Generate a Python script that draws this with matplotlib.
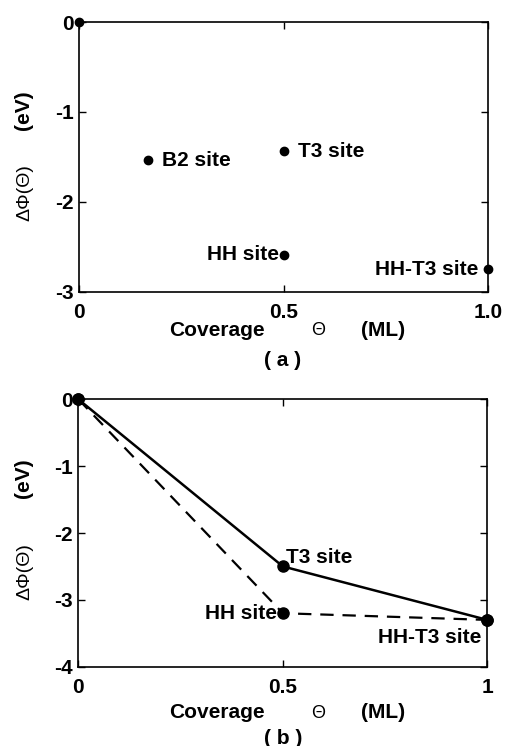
import matplotlib
matplotlib.use("Agg")
import matplotlib.pyplot as plt

plt.rcParams['font.family'] = ['Liberation Sans', 'DejaVu Sans']

# (a) single-site adsorption
cov_a = [0.0, 1/6, 0.5, 0.5, 1.0]
dphi_a = [0.0, -1.54, -1.44, -2.59, -2.75]
names_a = ['', 'B2 site', 'T3 site', 'HH site', 'HH-T3 site']

# (b) coverage paths through T3 and HH
cov_b = [0.0, 0.5, 1.0]
dphi_t3 = [0.0, -2.5, -3.3]
dphi_hh = [0.0, -3.2, -3.3]

FS = 15

fig = plt.figure(figsize=(5.09, 7.46), dpi=100)
ax1 = fig.add_axes([0.156, 0.609, 0.803, 0.3615])
ax2 = fig.add_axes([0.154, 0.1063, 0.8035, 0.3584])

def style(ax, yticks, xticks, xlabels):
    ax.set_xlim(0, 1)
    ax.set_ylim(min(yticks), 0)
    ax.set_yticks(yticks)
    ax.set_yticklabels([f"{t:g}" for t in yticks])
    ax.set_xticks(xticks)
    ax.set_xticklabels(xlabels)
    ax.tick_params(direction='in', length=5, width=1, top=True, right=True,
                   labelsize=FS)
    ax.tick_params(axis='x', pad=8)
    ax.tick_params(axis='y', pad=4)
    for lab in ax.get_xticklabels() + ax.get_yticklabels():
        lab.set_fontweight('bold')
    for s in ax.spines.values():
        s.set_linewidth(1.2)

# panel (a)
ax1.plot(cov_a, dphi_a, 'o', color='black', ms=6, clip_on=False)
ax1.text(cov_a[1] + 0.035, dphi_a[1], names_a[1], fontsize=FS, fontweight='bold', va='center')
ax1.text(cov_a[2] + 0.035, dphi_a[2], names_a[2], fontsize=FS, fontweight='bold', va='center')
ax1.text(cov_a[3] - 0.012, dphi_a[3], names_a[3], fontsize=FS, fontweight='bold', va='center', ha='right')
ax1.text(cov_a[4] - 0.025, dphi_a[4], names_a[4], fontsize=FS, fontweight='bold', va='center', ha='right')
style(ax1, [0, -1, -2, -3], [0, 0.5, 1.0], ['0', '0.5', '1.0'])

# panel (b)
ax2.plot(cov_b, dphi_t3, '-', color='black', lw=1.8, marker='o', ms=8, clip_on=False)
ax2.plot(cov_b, dphi_hh, '--', color='black', lw=1.6, dashes=(6, 4), marker='o', ms=8, clip_on=False)
ax2.text(0.508, -2.36, 'T3 site', fontsize=FS, fontweight='bold', va='center')
ax2.text(0.485, -3.2, 'HH site', fontsize=FS, fontweight='bold', va='center', ha='right')
ax2.text(0.985, -3.57, 'HH-T3 site', fontsize=FS, fontweight='bold', va='center', ha='right')
style(ax2, [0, -1, -2, -3, -4], [0, 0.5, 1], ['0', '0.5', '1'])

# axis titles and panel tags
for (ycov, ytag, yev, yphi) in [(330, 360, 110, 193), (713, 738, 478, 572)]:
    fig.text(217 / 509, 1 - ycov / 746, 'Coverage', fontsize=FS, fontweight='bold', ha='center', va='center')
    fig.text(318 / 509, 1 - ycov / 746, 'Θ', fontsize=13, ha='center', va='center')
    fig.text(383 / 509, 1 - ycov / 746, '(ML)', fontsize=FS, fontweight='bold', ha='center', va='center')
    fig.text(23 / 509, 1 - yev / 746, '(eV)', fontsize=FS, fontweight='bold', rotation=90, ha='center', va='center')
    fig.text(25 / 509, 1 - yphi / 746, 'ΔΦ(Θ)', fontsize=14, rotation=90, ha='center', va='center')
fig.text(283 / 509, 1 - 360 / 746, '( a )', fontsize=FS, fontweight='bold', ha='center', va='center')
fig.text(283 / 509, 1 - 738 / 746, '( b )', fontsize=FS, fontweight='bold', ha='center', va='center')

fig.savefig('out.png', dpi=100)
